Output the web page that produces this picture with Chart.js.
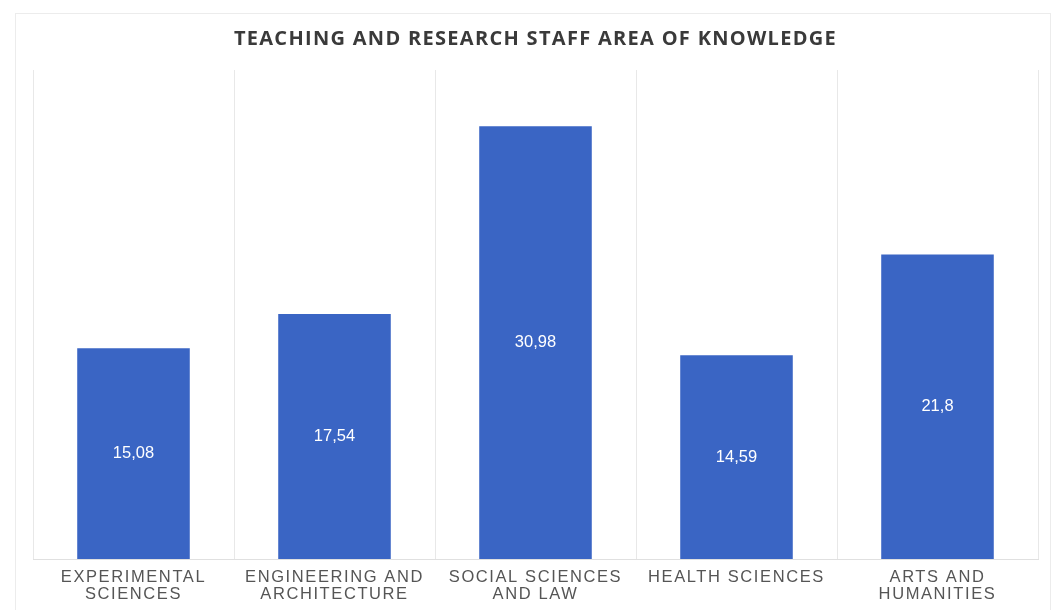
<!DOCTYPE html>
<html>
<head>
<meta charset="utf-8">
<script src="https://cdn.jsdelivr.net/npm/chart.js@4/dist/chart.umd.min.js"></script>
<style>
  html, body { margin: 0; padding: 0; background: #fff; }
  #wrap { width: 1058px; height: 610px; }
</style>
</head>
<body>
<div id="wrap"><canvas id="myChart"></canvas></div>
<script>
const chartTitle = 'TEACHING AND RESEARCH STAFF AREA OF KNOWLEDGE';
const areas = [
  ['EXPERIMENTAL', 'SCIENCES'],
  ['ENGINEERING AND', 'ARCHITECTURE'],
  ['SOCIAL SCIENCES', 'AND LAW'],
  ['HEALTH SCIENCES'],
  ['ARTS AND', 'HUMANITIES']
];
const staffShare = [15.08, 17.54, 30.98, 14.59, 21.8];
const shareLabels = ['15,08', '17,54', '30,98', '14,59', '21,8'];

// faint frame round the whole picture
const framePlugin = {
  id: 'frame',
  beforeDraw(chart) {
    const c = chart.ctx;
    c.save();
    c.strokeStyle = '#ececec';
    c.lineWidth = 1;
    c.strokeRect(15.5, 13.5, 1035, 600);
    c.restore();
  }
};

// white value text in the middle of each bar
const valuePlugin = {
  id: 'values',
  afterDatasetsDraw(chart) {
    const c = chart.ctx;
    const meta = chart.getDatasetMeta(0);
    c.save();
    c.fillStyle = '#ffffff';
    c.font = '16.5px "Liberation Sans", Arial, sans-serif';
    c.textAlign = 'center';
    c.textBaseline = 'middle';
    meta.data.forEach((bar, i) => {
      c.fillText(shareLabels[i], bar.x, (bar.y + bar.base) / 2);
    });
    c.restore();
  }
};

// letter spacing for x labels and title, like the original
function spaced(obj, fn, sp, chart) {
  const orig = obj[fn].bind(obj);
  obj[fn] = function (a) {
    chart.ctx.save();
    chart.ctx.letterSpacing = sp;
    orig(a);
    chart.ctx.restore();
  };
}
const spacingPlugin = {
  id: 'spacing',
  afterUpdate(chart) {
    const xs = chart.scales.x;
    if (xs && !xs._spaced) {
      spaced(xs, 'drawLabels', '1.6px', chart);
      xs._spaced = true;
    }
    const tb = chart.titleBlock;
    if (tb && !tb._spaced) {
      spaced(tb, 'draw', '1.3px', chart);
      tb._spaced = true;
    }
  }
};

const ctx = document.getElementById('myChart').getContext('2d');
const Charte = new Chart(ctx, {
  type: 'bar',
  data: {
    labels: areas,
    datasets: [{
      data: staffShare,
      backgroundColor: '#3a65c4',
      borderWidth: 0,
      barPercentage: 0.56,
      categoryPercentage: 1
    }]
  },
  options: {
    responsive: true,
    maintainAspectRatio: false,
    animation: false,
    layout: { padding: { left: 33, right: 20, top: 0, bottom: -3 } },
    plugins: {
      legend: { display: false },
      tooltip: { enabled: false },
      title: {
        display: true,
        text: chartTitle,
        color: '#3a3a3a',
        font: { family: '"Open Sans", sans-serif', size: 20, weight: 'bold' },
        padding: { top: 27, bottom: 19 }
      }
    },
    scales: {
      x: {
        grid: { display: true, color: '#e8e8e8', drawTicks: false, offset: true },
        border: { display: true, color: '#e0e0e0' },
        ticks: {
          color: '#555555',
          padding: 10,
          maxRotation: 0,
          autoSkip: false,
          font: { family: '"Liberation Sans", Arial, sans-serif', size: 16.5, lineHeight: 1.03 }
        }
      },
      y: {
        display: false,
        min: 0,
        max: 35
      }
    }
  },
  plugins: [framePlugin, valuePlugin, spacingPlugin]
});
</script>
</body>
</html>
